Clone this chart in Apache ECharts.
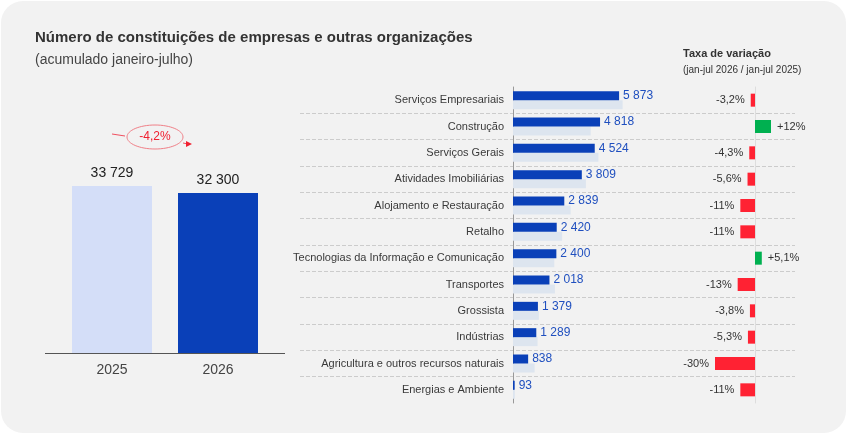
<!DOCTYPE html>
<html lang="pt">
<head>
<meta charset="UTF-8">
<script src="https://cdn.jsdelivr.net/npm/echarts@6/dist/echarts.min.js"></script>
<style>
    * { margin: 0; padding: 0; }
    body { background: #fff; }
    #chart { width: 847px; height: 434px; }
</style>
</head>
<body>
<div id="chart"></div>
<script>
    // total acumulado jan-jul
    var years = ['2025', '2026'];
    var totals = [33729, 32300];

    // setores
    var sectors = ['Serviços Empresariais', 'Construção', 'Serviços Gerais', 'Atividades Imobiliárias',
        'Alojamento e Restauração', 'Retalho', 'Tecnologias da Informação e Comunicação', 'Transportes',
        'Grossista', 'Indústrias', 'Agricultura e outros recursos naturais', 'Energias e Ambiente'];
    var current = [5873, 4818, 4524, 3809, 2839, 2420, 2400, 2018, 1379, 1289, 838, 93];
    var previous = [6067, 4302, 4727, 4035, 3190, 2719, 2284, 2320, 1433, 1361, 1197, 104];
    var change = [-3.2, 12, -4.3, -5.6, -11, -11, 5.1, -13, -3.8, -5.3, -30, -11];
    var changeLabels = ['-3,2%', '+12%', '-4,3%', '-5,6%', '-11%', '-11%', '+5,1%', '-13%', '-3,8%', '-5,3%', '-30%', '-11%'];

    function fmt(v) { return String(v).replace(/\B(?=(\d{3})+(?!\d))/g, ' '); }

    var font = 'Arial, "Liberation Sans", sans-serif';
    var chart = echarts.init(document.getElementById('chart'));
    var rowTop = 87, rowH = 316, step = rowH / 12;

    chart.setOption({
        animation: false,
        textStyle: { fontFamily: font },
        graphic: [
            { type: 'rect', shape: { x: 1, y: 1, width: 845, height: 432, r: 22 }, style: { fill: '#f2f2f2' }, z: -10 },
            { type: 'text', left: 35, top: 30, style: { text: 'Número de constituições de empresas e outras organizações', fontSize: 15, fontWeight: 'bold', fill: '#333', fontFamily: font } },
            { type: 'text', left: 35, top: 53, style: { text: '(acumulado janeiro-julho)', fontSize: 14, fill: '#444', fontFamily: font } },
            { type: 'text', left: 683, top: 48, style: { text: 'Taxa de variação', fontSize: 11, fontWeight: 'bold', fill: '#333', fontFamily: font } },
            { type: 'text', left: 683, top: 65, style: { text: '(jan-jul 2026 / jan-jul 2025)', fontSize: 10, fill: '#333', fontFamily: font } },
            { type: 'line', shape: { x1: 45, y1: 353.5, x2: 285, y2: 353.5 }, style: { stroke: '#555', lineWidth: 1 }, z: 10 },
            { type: 'line', shape: { x1: 112, y1: 134, x2: 125, y2: 136 }, style: { stroke: '#f05060', lineWidth: 1 } },
            { type: 'ellipse', shape: { cx: 155, cy: 137, rx: 28, ry: 12 }, style: { fill: 'none', stroke: '#f08088', lineWidth: 1 } },
            { type: 'line', shape: { x1: 183, y1: 143, x2: 188, y2: 144 }, style: { stroke: '#f05060', lineWidth: 1 } },
            { type: 'polygon', shape: { points: [[186, 141], [192, 144], [186, 147]] }, style: { fill: '#f02030' } },
            { type: 'text', x: 155, y: 137, style: { text: '-4,2%', fontSize: 12, fill: '#f02030', align: 'center', verticalAlign: 'middle', fontFamily: font } }
        ],
        grid: [
            { left: 59, top: 155, width: 212, height: 198 },
            { left: 513, top: rowTop, width: 271, height: rowH },
            { left: 675, top: rowTop, width: 120, height: rowH },
            { left: 300, top: rowTop + step, width: 495, height: step * 10 }
        ],
        xAxis: [
            { gridIndex: 0, type: 'category', data: years, axisTick: { show: false },
              axisLine: { show: false }, axisLabel: { fontSize: 14, color: '#444', margin: 10 } },
            { gridIndex: 1, type: 'value', min: 0, max: 15000, show: false, splitLine: { show: false } },
            { gridIndex: 2, type: 'value', min: -60, max: 30, show: false, splitLine: { show: false } },
            { gridIndex: 3, type: 'value', show: false, splitLine: { show: false } }
        ],
        yAxis: [
            { gridIndex: 0, type: 'value', min: 0, max: 40000, show: false, splitLine: { show: false } },
            { gridIndex: 1, type: 'category', data: sectors, inverse: true, axisTick: { show: false },
              axisLine: { lineStyle: { color: '#999' } }, splitLine: { show: false },
              axisLabel: { fontSize: 11, color: '#3a3a3a', margin: 9 } },
            { gridIndex: 2, type: 'category', data: sectors, inverse: true, axisTick: { show: false },
              axisLine: { lineStyle: { color: '#ddd' } }, axisLabel: { show: false } },
            { gridIndex: 3, type: 'category', data: sectors.slice(1, 11), inverse: true, axisTick: { show: false },
              axisLine: { show: false }, axisLabel: { show: false },
              splitLine: { show: true, lineStyle: { color: '#ccc', type: 'dashed' } } }
        ],
        series: [
            {
                type: 'bar', xAxisIndex: 0, yAxisIndex: 0, barWidth: 80,
                data: totals.map(function (v, i) {
                    return { value: v, itemStyle: { color: i === 0 ? '#d4def8' : '#0a40b8' } };
                }),
                label: { show: true, position: 'top', fontSize: 14, color: '#222', distance: 6,
                         formatter: function (p) { return fmt(p.value); } }
            },
            {
                type: 'bar', xAxisIndex: 1, yAxisIndex: 1, barWidth: 9, barGap: '0%',
                data: current, itemStyle: { color: '#0a40b8' }, z: 3,
                label: { show: true, position: 'right', fontSize: 12, color: '#1f4fbf', distance: 4,
                         formatter: function (p) { return fmt(p.value); } }
            },
            {
                type: 'bar', xAxisIndex: 1, yAxisIndex: 1, barWidth: 9,
                data: previous, itemStyle: { color: '#dde5ef' }
            },
            {
                type: 'bar', xAxisIndex: 2, yAxisIndex: 2, barWidth: 13,
                data: change.map(function (v, i) {
                    return { value: v, itemStyle: { color: v < 0 ? '#ff2233' : '#00b050' },
                             label: { position: v < 0 ? 'left' : 'right' } };
                }),
                label: { show: true, fontSize: 11, color: '#333', distance: 6,
                         formatter: function (p) { return changeLabels[p.dataIndex]; } }
            }
        ]
    });
</script>
</body>
</html>
